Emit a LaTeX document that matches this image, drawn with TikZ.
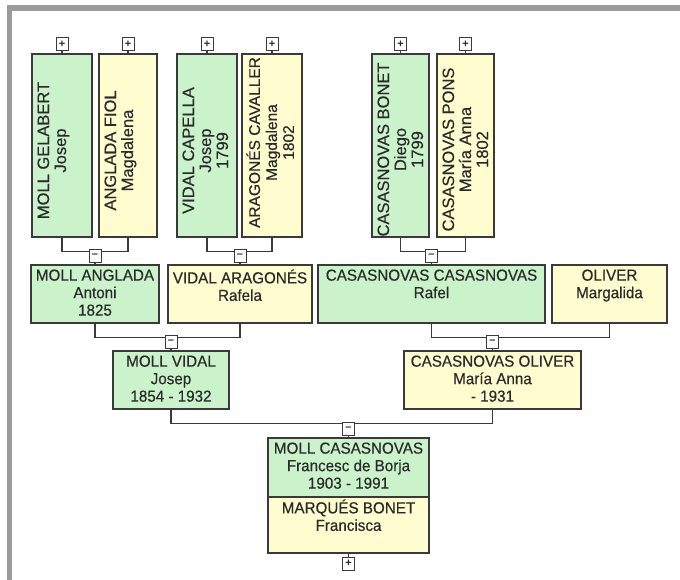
\documentclass[tikz,border=0pt]{standalone}
\usepackage{fontspec}
\setmainfont{Liberation Sans}
\newfontfamily\boxfont[FakeStretch=0.95, FakeBold=0.4]{Liberation Sans}
\newfontfamily\sidefont[FakeBold=0.4]{Liberation Sans}
\usepackage{xcolor}
\definecolor{Frame}{HTML}{9B9B9B}
\definecolor{Edge}{HTML}{3A3A3A}
\definecolor{Ink}{HTML}{2A2A2A}
\definecolor{Male}{HTML}{CBF3CB}
\definecolor{Female}{HTML}{FFFCD0}
\usetikzlibrary{calc}

\begin{document}
\begin{tikzpicture}[x=1pt, y=-1pt,
  man/.style={rectangle, draw=Edge, fill=Male, line width=1.4pt, inner sep=0pt},
  woman/.style={rectangle, draw=Edge, fill=Female, line width=1.4pt, inner sep=0pt},
  htext/.style={anchor=north, align=center, inner sep=0pt, text=Ink,
                font=\boxfont\fontsize{16}{17.5}\selectfont, execute at begin node={\rule{0pt}{14pt}}},
  vtext/.style={htext, rotate=90, font=\sidefont\fontsize{16.5}{17}\selectfont},
  tog/.style={rectangle, draw=Edge, fill=white, line width=1pt, minimum width=12pt,
              minimum height=13pt, inner sep=0pt, text=Ink, font=\fontsize{11}{11}\selectfont\bfseries},
  link/.style={draw=Edge, line width=1.4pt}
]
\useasboundingbox (0,0) rectangle (680,580);

%% ---- Frame (top and left bands) ----
\fill[Frame] (7,5) rectangle (680,11);
\fill[Frame] (7,5) rectangle (12,580);

%% ---- Row 1: great-grandparents (vertical boxes) ----
\node[man,   minimum width=60, minimum height=183] (mollgelabert)     at ( 62.0,145.5) {};
\node[woman, minimum width=58, minimum height=183] (angladafiol)      at (128.0,145.5) {};
\node[man,   minimum width=60, minimum height=183] (vidalcapella)     at (207.0,145.5) {};
\node[woman, minimum width=60, minimum height=183] (aragonescavaller) at (272.0,145.5) {};
\node[man,   minimum width=57, minimum height=183] (casasnovasbonet)  at (400.5,145.5) {};
\node[woman, minimum width=57, minimum height=183] (casasnovaspons)   at (465.5,145.5) {};

\node[vtext] (mollgelabert-t)     at ($(mollgelabert.west)+(6,5)$)     {MOLL GELABERT\\Josep};
\node[vtext] (angladafiol-t)      at ($(angladafiol.west)+(6,5)$)      {ANGLADA FIOL\\Magdalena};
\node[vtext] (vidalcapella-t)     at ($(vidalcapella.west)+(6,5)$)     {VIDAL CAPELLA\\Josep\\1799};
\node[vtext, font=\sidefont\fontsize{15.5}{17}\selectfont] (aragonescavaller-t)
  at ($(aragonescavaller.west)+(5,-3)$) {ARAGONÉS CAVALLER\\Magdalena\\1802};
\node[vtext] (casasnovasbonet-t)  at ($(casasnovasbonet.west)+(6,4)$)  {CASASNOVAS BONET\\Diego\\1799};
\node[vtext] (casasnovaspons-t)   at ($(casasnovaspons.west)+(6,4)$)   {CASASNOVAS PONS\\María Anna\\1802};

%% ---- Row 2: grandparents ----
\node[man,   minimum width=128, minimum height=58] (mollanglada)          at ( 95.0,294) {};
\node[woman, minimum width=144, minimum height=58] (vidalaragones)        at (240.0,294) {};
\node[man,   minimum width=227, minimum height=58] (casasnovascasasnovas) at (431.5,294) {};
\node[woman, minimum width=115, minimum height=58] (oliver)               at (609.5,294) {};

\node[htext] (mollanglada-t)          at ($(mollanglada.north)+(0,5)$)          {MOLL ANGLADA\\Antoni\\1825};
\node[htext] (vidalaragones-t)        at ($(vidalaragones.north)+(0,5)$)        {VIDAL ARAGONÉS\\Rafela};
\node[htext] (casasnovascasasnovas-t) at ($(casasnovascasasnovas.north)+(0,5)$) {CASASNOVAS CASASNOVAS\\Rafel};
\node[htext] (oliver-t)               at ($(oliver.north)+(0,5)$)               {OLIVER\\Margalida};

%% ---- Row 3: parents ----
\node[man,   minimum width=116, minimum height=58] (mollvidal)        at (171.0,380) {};
\node[woman, minimum width=177, minimum height=58] (casasnovasoliver) at (492.5,380) {};

\node[htext] (mollvidal-t)        at ($(mollvidal.north)+(0,5)$)        {MOLL VIDAL\\Josep\\1854 - 1932};
\node[htext] (casasnovasoliver-t) at ($(casasnovasoliver.north)+(0,5)$) {CASASNOVAS OLIVER\\María Anna\\- 1931};

%% ---- Row 4: couple ----
\node[man,   minimum width=161, minimum height=59] (mollcasasnovas) at (348.5,467.5) {};
\node[woman, minimum width=161, minimum height=56] (marquesbonet)   at (348.5,525.0) {};

\node[htext] (mollcasasnovas-t) at ($(mollcasasnovas.north)+(0,5)$) {MOLL CASASNOVAS\\Francesc de Borja\\1903 - 1991};
\node[htext] (marquesbonet-t)   at ($(marquesbonet.north)+(0,3)$)   {MARQUÉS BONET\\Francisca};

%% ---- Couple lines (drawn before the toggles so these sit on top) ----
\draw[link] (mollgelabert.south)    -- ++(0,14) -| (angladafiol.south);
\draw[link] (vidalcapella.south)    -- ++(0,14) -| (aragonescavaller.south);
\draw[link] (casasnovasbonet.south) -- ++(0,14) -| (casasnovaspons.south);
\draw[link] (mollanglada.south)          -- ++(0,14) -| (vidalaragones.south);
\draw[link] (casasnovascasasnovas.south) -- ++(0,14) -| (oliver.south);
\draw[link] (mollvidal.south) -- ++(0,14) -| (casasnovasoliver.south);

%% ---- Collapse toggles (minus) above each child ----
\node[tog] (m-mollanglada)          at ( 95.0,256) {–};
\node[tog] (m-vidalaragones)        at (240.0,256) {–};
\node[tog] (m-casasnovascasasnovas) at (431.5,256) {–};
\node[tog] (m-mollvidal)            at (171.0,342) {–};
\node[tog] (m-casasnovasoliver)     at (492.5,342) {–};
\node[tog] (m-mollcasasnovas)       at (348.5,429) {–};
\draw[link] (m-mollanglada.south)          -- (mollanglada.north);
\draw[link] (m-vidalaragones.south)        -- (vidalaragones.north);
\draw[link] (m-casasnovascasasnovas.south) -- (casasnovascasasnovas.north);
\draw[link] (m-mollvidal.south)            -- (mollvidal.north);
\draw[link] (m-casasnovasoliver.south)     -- (casasnovasoliver.north);
\draw[link] (m-mollcasasnovas.south)       -- (mollcasasnovas.north);

%% ---- Expand toggles (plus) ----
\foreach \who in {mollgelabert, angladafiol, vidalcapella, aragonescavaller,
                  casasnovasbonet, casasnovaspons} {
  \node[tog] (p-\who) at ($(\who.north)+(0,-9)$) {+};
  \draw[link] (p-\who.south) -- (\who.north);
}
\node[tog] (p-marquesbonet) at ($(marquesbonet.south)+(0,10)$) {+};
\draw[link] (marquesbonet.south) -- (p-marquesbonet.north);

\end{tikzpicture}
\end{document}
